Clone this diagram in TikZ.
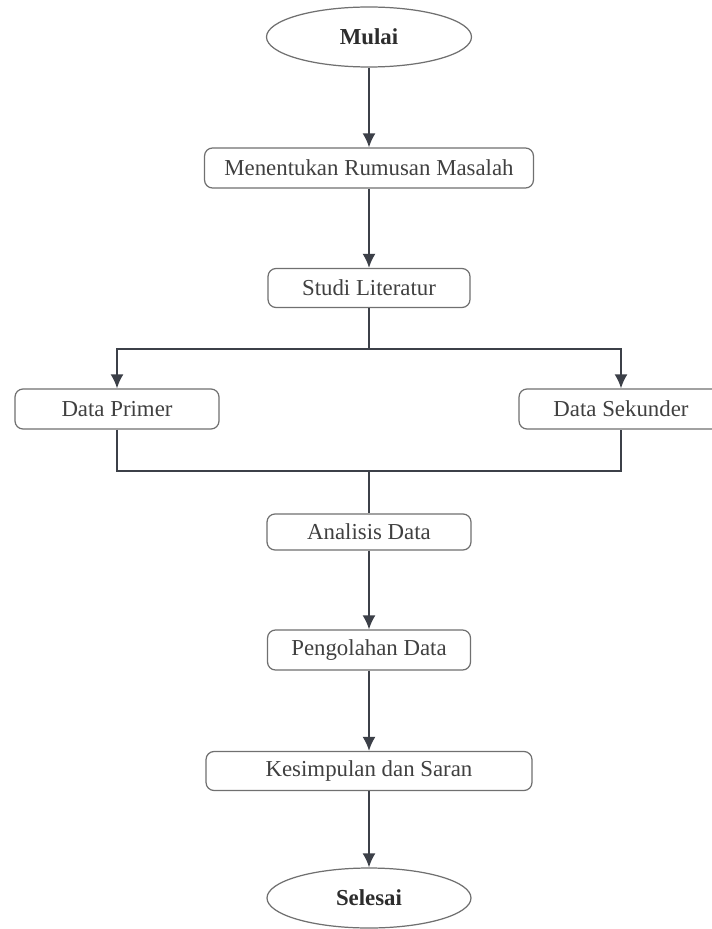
\documentclass[tikz,border=0pt]{standalone}
\usepackage{fontspec}
\setmainfont{Liberation Serif}
\usetikzlibrary{shapes.geometric,arrows.meta}
\definecolor{garis}{HTML}{3C4048}
\definecolor{tepi}{HTML}{707070}
\definecolor{teks}{HTML}{404040}
\tikzset{
	kotak/.style={draw=tepi,line width=0.7pt,rounded corners=0.16cm,text=teks,minimum height=0.8cm,inner sep=0pt,font=\fontsize{13}{15}\selectfont},
	oval/.style={ellipse,draw=tepi,line width=0.7pt,text=teks!70!black,minimum width=4.1cm,minimum height=1.2cm,inner sep=0pt,font=\fontsize{13}{15}\selectfont\bfseries},
	alur/.style={draw=garis,line width=1.1pt}
}
\begin{document}
\begin{tikzpicture}[x=0.02cm,y=-0.02cm,>={Latex[length=0.28cm,width=0.26cm]}]
			\clip (0,0) rectangle (712,929);
			\fill[white] (0,0) rectangle (712,929);
			\node[oval] (mulai) at (369,37) {Mulai};
			\node[kotak,minimum width=6.58cm] (rumusan) at (369,168) {Menentukan Rumusan Masalah};
			\node[kotak,minimum width=4.04cm,minimum height=0.78cm] (studi) at (369,288) {Studi Literatur};
			\node[kotak,minimum width=4.08cm] (primer) at (117,409) {Data Primer};
			\node[kotak,minimum width=4.08cm] (sekunder) at (621,409) {Data Sekunder};
			\node[kotak,minimum width=4.08cm,minimum height=0.72cm] (analisis) at (369,532) {Analisis Data};
			\node[kotak,minimum width=4.06cm] (pengolahan) at (369,650) {Pengolahan Data};
			\node[kotak,minimum width=6.52cm,minimum height=0.78cm] (kesimpulan) at (369,771) {Kesimpulan dan Saran};
			\node[oval,minimum width=4.08cm] (selesai) at (369,898) {Selesai};
			\coordinate (cabang) at (369,349);
			\coordinate (gabung) at (369,471);
			\draw[alur,->] (mulai) -- (rumusan);
			\draw[alur,->] (rumusan) -- (studi);
			\draw[alur] (studi.south) -- (cabang);
			\draw[alur,->] (cabang) -| (primer.north);
			\draw[alur,->] (cabang) -| (sekunder.north);
			\draw[alur] (primer.south) |- (gabung) -| (sekunder.south);
			\draw[alur] (gabung) -- (analisis.north);
			\draw[alur,->] (analisis) -- (pengolahan);
			\draw[alur,->] (pengolahan) -- (kesimpulan);
			\draw[alur,->] (kesimpulan) -- (selesai);
\end{tikzpicture}
\end{document}
